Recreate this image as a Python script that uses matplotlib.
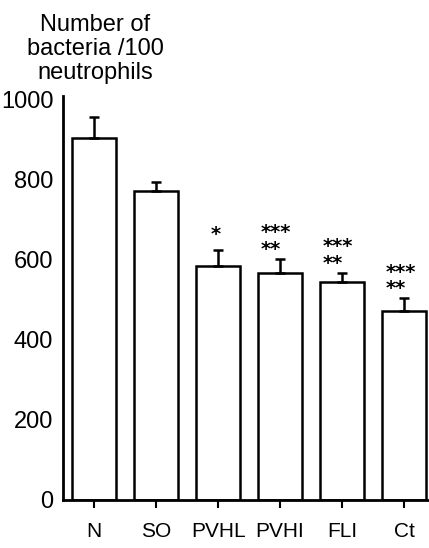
import matplotlib
matplotlib.use("Agg")
import matplotlib.pyplot as plt

plt.rcParams['font.family'] = ['Liberation Sans', 'DejaVu Sans']

categories = ["N", "SO", "PVHL", "PVHI", "FLI", "Ct"]
values = [905, 773, 585, 568, 546, 473]
errors = [52, 23, 40, 35, 22, 31]
stars = ["", "", "*", "***\n**", "***\n**", "***\n**"]
yticks = [0, 200, 400, 600, 800, 1000]

W, H = 429, 548
fig = plt.figure(figsize=(W / 100, H / 100), dpi=100)
ax = fig.add_axes([63 / W, 48 / H, (W - 63) / W, 404 / H])

x = list(range(len(categories)))
ax.bar(x, values, width=0.71, color='white', edgecolor='black', linewidth=1.8, zorder=2)
ax.errorbar(x, values, yerr=[[0] * len(values), errors], fmt='none', ecolor='black',
            elinewidth=1.8, capsize=3.5, capthick=1.8, zorder=3)

# significance stars (offsets in pixels above the error cap)
for i in x:
    top = values[i] + errors[i]
    if "\n" in stars[i]:
        ax.annotate(stars[i], (i, top), xytext=(-19, 0), textcoords='offset pixels',
                    ha='left', va='bottom', multialignment='left', fontsize=14,
                    family='DejaVu Sans', fontweight='bold', linespacing=0.85)
    elif stars[i]:
        ax.annotate(stars[i], (i, top), xytext=(-2, 6), textcoords='offset pixels',
                    ha='center', va='bottom', fontsize=14, family='DejaVu Sans',
                    fontweight='bold')

ax.set_xlim(-0.5, 5.4)
ax.set_ylim(0, 1010)
ax.set_yticks(yticks)
ax.set_yticklabels([str(v) for v in yticks], fontsize=17)
ax.set_xticks(x)
ax.set_xticklabels(categories, fontsize=15)
ax.tick_params(axis='y', length=0, pad=7)
ax.tick_params(axis='x', length=6, width=1.5, direction='out', pad=10)
for s in ['top', 'right']:
    ax.spines[s].set_visible(False)
ax.spines['left'].set_linewidth(2)
ax.spines['bottom'].set_linewidth(2)

fig.text(95 / W, 1 - 49 / H, "Number of\nbacteria /100\nneutrophils", ha='center', va='center',
         fontsize=17, linespacing=1.1)

fig.savefig("out.png", dpi=100)
